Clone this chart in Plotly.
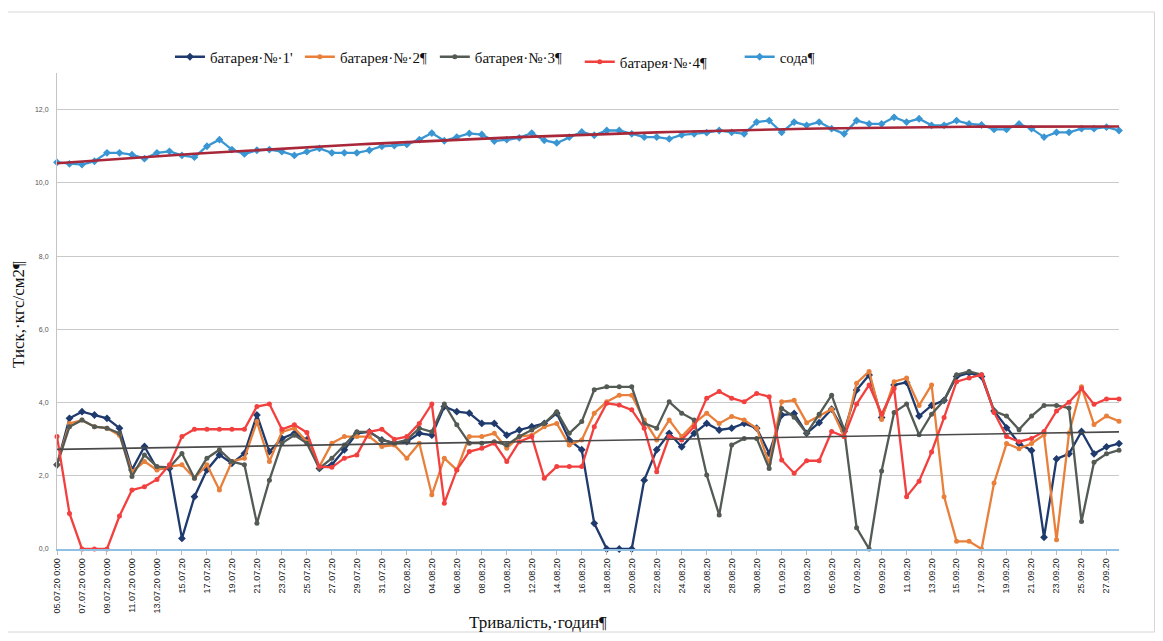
import numpy as np
import pandas as pd
import plotly.graph_objects as go

# ---------------- data ----------------
dates = pd.date_range("2020-07-05", "2020-09-28", freq="D")
categories = [d.strftime("%d.%m.%Y") for d in dates]

battery1 = [2.3, 3.57, 3.75, 3.66, 3.57, 3.3, 2.16, 2.8, 2.2, 2.2,
            0.29, 1.43, 2.16, 2.57, 2.34, 2.61, 3.66, 2.66, 3.02, 3.16,
            2.98, 2.2, 2.3, 2.71, 3.16, 3.2, 2.98, 2.89, 2.93, 3.16,
            3.11, 3.89, 3.75, 3.71, 3.43, 3.43, 3.11, 3.25, 3.34, 3.43,
            3.71, 2.98, 2.71, 0.7, 0.0, 0.0, 0.0, 1.88, 2.71, 3.16,
            2.79, 3.16, 3.43, 3.25, 3.3, 3.43, 3.3, 2.61, 3.66, 3.7,
            3.16, 3.45, 3.82, 3.21, 4.34, 4.75, 3.59, 4.48, 4.55, 3.63,
            3.92, 4.06, 4.71, 4.81, 4.71, 3.77, 3.31, 2.88, 2.69, 0.32,
            2.46, 2.6, 3.21, 2.6, 2.79, 2.88]

battery2 = [2.3, 3.43, 3.52, 3.34, 3.3, 3.11, 2.11, 2.39, 2.16, 2.25,
            2.3, 1.93, 2.3, 1.61, 2.39, 2.48, 3.48, 2.39, 3.2, 3.3,
            2.93, 2.25, 2.89, 3.07, 3.07, 3.07, 2.8, 2.84, 2.48, 2.89,
            1.48, 2.48, 2.16, 3.07, 3.07, 3.16, 2.75, 3.07, 3.11, 3.34,
            3.43, 2.84, 2.98, 3.71, 4.02, 4.2, 4.2, 3.52, 2.98, 3.52,
            3.07, 3.43, 3.71, 3.43, 3.62, 3.52, 3.3, 2.34, 4.02, 4.06,
            3.45, 3.63, 3.82, 3.07, 4.53, 4.85, 3.54, 4.57, 4.67, 3.92,
            4.48, 1.43, 0.21, 0.21, 0.0, 1.8, 2.88, 2.74, 2.88, 3.12,
            0.25, 3.16, 4.43, 3.4, 3.63, 3.49]

battery3 = [2.3, 3.34, 3.52, 3.34, 3.3, 3.16, 1.98, 2.57, 2.25, 2.23,
            2.61, 1.93, 2.48, 2.71, 2.39, 2.3, 0.7, 1.88, 2.89, 3.11,
            2.89, 2.2, 2.48, 2.84, 3.2, 3.2, 2.98, 2.89, 2.98, 3.3,
            3.2, 3.96, 3.39, 2.89, 2.89, 2.93, 2.84, 3.07, 3.25, 3.43,
            3.75, 3.16, 3.48, 4.35, 4.43, 4.43, 4.43, 3.43, 3.3, 4.02,
            3.71, 3.52, 2.02, 0.93, 2.84, 3.02, 3.02, 2.2, 3.84, 3.6,
            3.16, 3.68, 4.2, 3.26, 0.58, 0.0, 2.13, 3.73, 3.96, 3.12,
            3.68, 4.06, 4.76, 4.85, 4.76, 3.77, 3.63, 3.26, 3.63, 3.92,
            3.92, 3.85, 0.75, 2.37, 2.6, 2.7]

battery4 = [3.07, 0.97, 0.0, 0.0, 0.0, 0.9, 1.61, 1.7, 1.9, 2.3,
            3.07, 3.27, 3.27, 3.27, 3.27, 3.27, 3.89, 3.96, 3.27, 3.39,
            3.18, 2.25, 2.23, 2.48, 2.57, 3.2, 3.27, 3.0, 3.07, 3.43,
            3.96, 1.25, 2.16, 2.66, 2.75, 2.89, 2.39, 2.93, 3.07, 1.93,
            2.25, 2.25, 2.25, 3.34, 3.98, 3.93, 3.8, 3.3, 2.11, 3.07,
            2.98, 3.34, 4.12, 4.3, 4.12, 4.02, 4.25, 4.16, 2.43, 2.07,
            2.41, 2.41, 3.21, 3.07, 3.96, 4.48, 3.68, 4.38, 1.43, 1.85,
            2.65, 3.59, 4.57, 4.67, 4.76, 3.73, 3.07, 2.93, 3.02, 3.21,
            3.77, 4.01, 4.38, 3.95, 4.1, 4.1]

soda = [10.56, 10.52, 10.5, 10.59, 10.82, 10.82, 10.77, 10.66, 10.82, 10.86,
        10.75, 10.7, 11.0, 11.18, 10.91, 10.79, 10.89, 10.91, 10.85, 10.75,
        10.85, 10.94, 10.82, 10.82, 10.82, 10.89, 11.0, 11.02, 11.05, 11.18,
        11.36, 11.15, 11.25, 11.35, 11.32, 11.14, 11.18, 11.23, 11.36, 11.16,
        11.09, 11.25, 11.39, 11.3, 11.43, 11.43, 11.34, 11.25, 11.25, 11.2,
        11.31, 11.34, 11.37, 11.43, 11.38, 11.34, 11.66, 11.7, 11.38, 11.66,
        11.57, 11.66, 11.48, 11.34, 11.7, 11.61, 11.61, 11.79, 11.66, 11.75,
        11.57, 11.57, 11.7, 11.61, 11.58, 11.46, 11.46, 11.61, 11.48, 11.25,
        11.38, 11.38, 11.48, 11.48, 11.52, 11.43]

# linear trend of the lower group (start / end value)
trend_low = [2.72, 3.2]

y_ticks = [0, 2, 4, 6, 8, 10, 12]
y_tick_text = ["0,0", "2,0", "4,0", "6,0", "8,0", "10,0", "12,0"]

tick_vals = categories[0:85:2]
tick_text = []
for i, d in enumerate(dates[0:85:2]):
    s = d.strftime("%d.%m.20")
    if i < 5:
        s += " 0:00"
    tick_text.append(s)

# ---------------- figure ----------------
fig = go.Figure()

series = [
    ("батарея·№·1'", battery1, "#1f3a6d", "diamond", "legend"),
    ("батарея·№·2¶", battery2, "#e8803c", "circle", "legend2"),
    ("батарея·№·3¶", battery3, "#535b54", "circle", "legend3"),
    ("батарея·№·4¶", battery4, "#f2403f", "circle", "legend4"),
    ("сода¶", soda, "#3a96d2", "diamond", "legend5"),
]
for name, vals, col, sym, lg in series:
    fig.add_trace(go.Scatter(
        x=categories, y=vals, name=name, mode="lines+markers",
        line=dict(color=col, width=2.3),
        marker=dict(color=col, size=5 if sym == "circle" else 6, symbol=sym),
        cliponaxis=False, legend=lg,
    ))

# soda polynomial trend (2nd order fitted on soda values)
idx = np.arange(len(soda))
coef = np.polyfit(idx, soda, 2)
fig.add_trace(go.Scatter(
    x=categories, y=np.polyval(coef, idx), mode="lines",
    line=dict(color="#a8283a", width=2.6), showlegend=False, hoverinfo="skip",
))
# lower linear trend
fig.add_trace(go.Scatter(
    x=[categories[0], categories[-1]], y=trend_low, mode="lines",
    line=dict(color="#4a4a4a", width=1.6), showlegend=False, hoverinfo="skip",
))

# page has an 8px body margin -> work in page pixels, convert to figure
OFF = 8
W, H = 1163 - OFF, 641 - OFF
L, T = 57 - OFF, 73 - OFF
R = W - (1119.5 - OFF)
B = H - (549 - OFF)
pw, ph = W - L - R, H - T - B


def px(xp):
    return (xp - OFF - L) / pw


def py(yp):
    return (H - B - (yp - OFF)) / ph


legend_font = dict(family="Liberation Serif", size=15, color="#111")
leg_common = dict(orientation="h", xanchor="left", yanchor="middle",
                  bgcolor="rgba(0,0,0,0)", font=legend_font)
fig.update_layout(
    legend=dict(x=px(170), y=py(57), **leg_common),
    legend2=dict(x=px(300), y=py(57), **leg_common),
    legend3=dict(x=px(435), y=py(57), **leg_common),
    legend4=dict(x=px(580), y=py(62), **leg_common),
    legend5=dict(x=px(740), y=py(57), **leg_common),
)

fig.update_layout(
    width=W, height=H,
    margin=dict(l=L, r=R, t=T, b=B, pad=0),
    paper_bgcolor="white", plot_bgcolor="white",
    xaxis=dict(
        type="category", range=[0, 85],
        tickmode="array", tickvals=tick_vals, ticktext=tick_text,
        tickangle=-90, tickfont=dict(family="Liberation Sans", size=9, color="#1a1a1a"),
        showgrid=False, zeroline=False,
        showline=True, linecolor="#8fc0e3", linewidth=1.5,
        ticks="outside", ticklen=4, tickcolor="#bbbbbb",
    ),
    yaxis=dict(
        range=[0, 13], tickmode="array", tickvals=y_ticks, ticktext=y_tick_text,
        tickfont=dict(family="Liberation Sans", size=7, color="#555"),
        showgrid=True, gridcolor="#c9c9c9", gridwidth=1,
        zeroline=False, showline=True, linecolor="#c4c4c4", linewidth=1,
        ticks="", ticklabelstandoff=6,
    ),
    annotations=[
        dict(text="Тиск,·кгс/см2¶", x=px(18), y=py(315), xref="paper", yref="paper",
             textangle=-90, showarrow=False, xanchor="center", yanchor="middle",
             font=dict(family="Liberation Serif", size=17, color="#111")),
        dict(text="Тривалість,·годин¶", x=px(538), y=py(622), xref="paper", yref="paper",
             showarrow=False, xanchor="center", yanchor="middle",
             font=dict(family="Liberation Serif", size=17, color="#111")),
    ],
    shapes=[
        dict(type="rect", xref="paper", yref="paper",
             x0=px(4), x1=px(1155), y0=py(632), y1=py(12),
             line=dict(color="#d6d6d6", width=1)),
    ],
)

fig.write_html("out.html")
